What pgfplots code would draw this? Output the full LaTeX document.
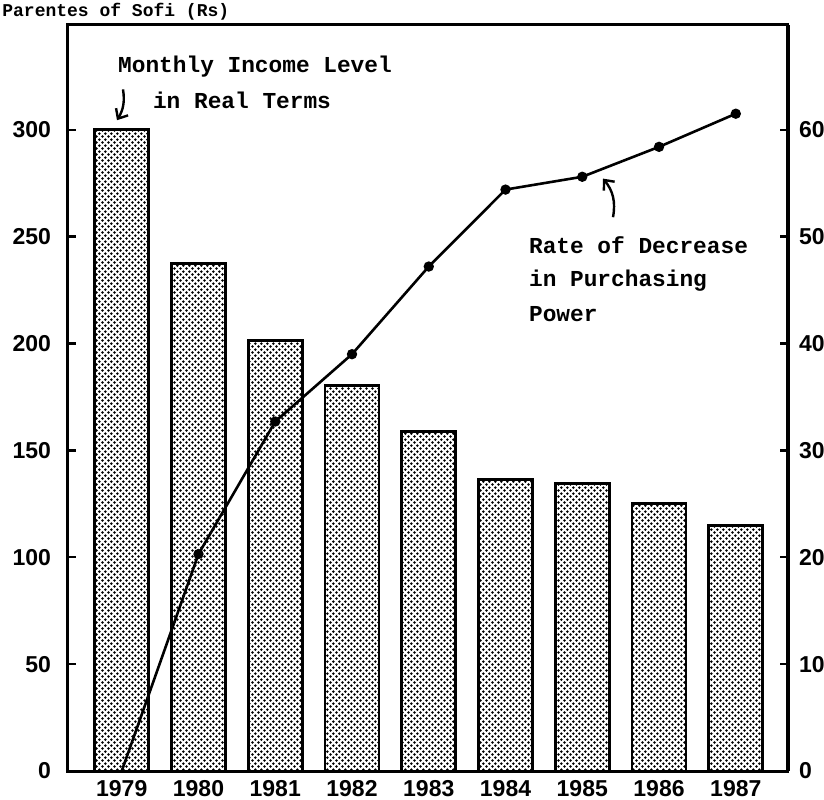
\documentclass[border=0pt]{standalone}
\usepackage{pgfplots}
\pgfplotsset{compat=1.18}
\usepackage{fontspec}
\setmainfont{Liberation Sans}
\newfontfamily\annfont{Liberation Mono}
\usetikzlibrary{patterns,arrows.meta}

\pgfdeclarepatternformonly{stip}{\pgfqpoint{0pt}{0pt}}{\pgfqpoint{3.2pt}{3.2pt}}{\pgfqpoint{3.2pt}{3.2pt}}{%
  \pgfpathcircle{\pgfqpoint{0.8pt}{0.8pt}}{0.78pt}%
  \pgfpathcircle{\pgfqpoint{2.4pt}{2.4pt}}{0.78pt}%
  \pgfusepath{fill}}

\begin{document}
\begin{tikzpicture}
\begin{axis}[
  scale only axis, width=360pt, height=373pt,
  xmin=-0.7, xmax=8.68, ymin=0, ymax=349,
  xtick={0,1,2,3,4,5,6,7,8},
  xticklabels={1979,1980,1981,1982,1983,1984,1985,1986,1987},
  major x tick style={draw=none},
  ytick={0,50,100,150,200,250,300},
  ytick pos=left, xtick pos=bottom,
  tick align=inside, major tick length=4pt,
  axis line style={line width=1.5pt},
  tick style={line width=1.2pt, black},
  ticklabel style={font=\bfseries\fontsize{11.5}{12}\selectfont},
  /pgf/number format/assume math mode=true,
  yticklabel style={xshift=-5pt},
  xticklabel style={yshift=-1pt},
]
\addplot[ybar, bar width=27pt, draw=black, line width=1.4pt, pattern=stip, pattern color=black]
  coordinates {(0,300) (1,237.5) (2,201.5) (3,180.5) (4,159) (5,136.5) (6,134.5) (7,125) (8,115)};
\end{axis}
\begin{axis}[
  scale only axis, width=360pt, height=373pt,
  xmin=-0.7, xmax=8.68, ymin=0, ymax=69.8,
  axis x line=none, axis y line*=right,
  ytick={0,10,20,30,40,50,60},
  tick align=inside, major tick length=4pt,
  axis line style={line width=1.5pt},
  tick style={line width=1.2pt, black},
  ticklabel style={font=\bfseries\fontsize{11.5}{12}\selectfont},
  /pgf/number format/assume math mode=true,
  yticklabel style={xshift=2pt},
]
\addplot[black, line width=1.3pt, mark=*, mark size=1.9pt, mark indices={2,3,4,5,6,7,8,9}]
  coordinates {(0,0) (1,20.3) (2,32.7) (3,39) (4,47.2) (5,54.4) (6,55.6) (7,58.4) (8,61.5)};
\end{axis}
\begin{scope}[font=\annfont\bfseries\fontsize{11.4}{13}\selectfont]
\node at (93.5pt,352.2pt) {Monthly Income Level};
\node at (87pt,335.4pt) {in Real Terms};
\node[anchor=west] at (227pt,263pt) {Rate of Decrease};
\node[anchor=west] at (227pt,245.2pt) {in Purchasing};
\node[anchor=west] at (227pt,228.4pt) {Power};
\end{scope}
\node[anchor=base west, inner sep=0pt, font=\annfont\bfseries\fontsize{9}{10}\selectfont] at (-33pt,377pt) {Parentes of Sofi (Rs)};
\draw[line width=1.2pt, -{Straight Barb[length=4pt,width=7pt]}] (27.5pt,340.8pt) to[bend left=20] (24.5pt,325.4pt);
\draw[line width=1.2pt, -{Straight Barb[length=4pt,width=7pt]}] (272.5pt,276.9pt) to[bend right=25] (267.5pt,296.2pt);
\pgfresetboundingbox
\path[use as bounding box] (-34pt,-14pt) rectangle (378pt,385.5pt);
\end{tikzpicture}
\end{document}
